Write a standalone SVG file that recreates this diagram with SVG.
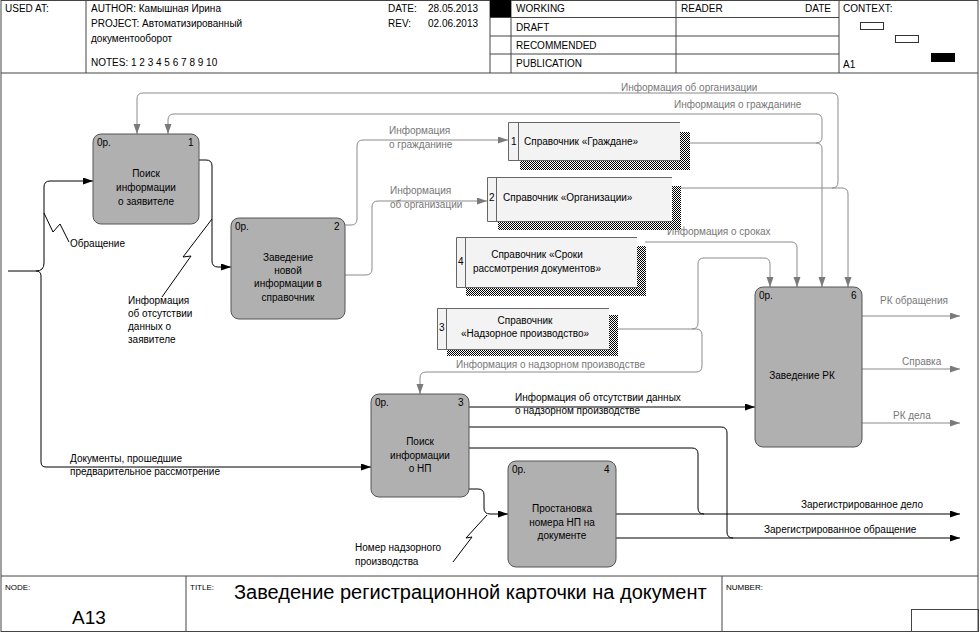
<svg xmlns="http://www.w3.org/2000/svg" width="980" height="632" viewBox="0 0 980 632">
<style>
text{font-family:"Liberation Sans",Arial,sans-serif;font-size:10px;fill:#000}
.g{fill:#777}
.hdr{font-size:10px}
.frame{fill:none;stroke:#444;stroke-width:1}
.box{fill:#b0b0b0;stroke:#555;stroke-width:1}
.store{fill:#f3f3f3;stroke:none}
.sline{fill:none;stroke:#666;stroke-width:1}
.cb{fill:none;stroke:#000;stroke-width:1}
.cg{fill:none;stroke:#8a8a8a;stroke-width:1}
.mid{text-anchor:middle}
</style>
<defs>
<marker id="ab" markerWidth="11" markerHeight="8" refX="10" refY="3.5" orient="auto" markerUnits="userSpaceOnUse"><path d="M0,0 L10,3.5 L0,7 z" fill="#000"/></marker>
<marker id="ag" markerWidth="11" markerHeight="8" refX="10" refY="3.5" orient="auto" markerUnits="userSpaceOnUse"><path d="M0,0 L10,3.5 L0,7 z" fill="#7a7a7a"/></marker>
<pattern id="hatch" width="2" height="2" patternUnits="userSpaceOnUse"><rect width="2" height="2" fill="#fff"/><rect width="1" height="1" fill="#000"/><rect x="1" y="1" width="1" height="1" fill="#000"/></pattern>
</defs>
<rect x="0" y="0" width="980" height="632" fill="#fff"/>
<g id="frame">
<rect class="frame" x="1" y="0.5" width="977" height="631"/>
<line class="frame" x1="1" y1="73" x2="978" y2="73"/>
<line class="frame" x1="86" y1="0" x2="86" y2="73"/>
<line class="frame" x1="490" y1="0" x2="490" y2="73"/>
<line class="frame" x1="511" y1="0" x2="511" y2="73"/>
<line class="frame" x1="676" y1="0" x2="676" y2="73"/>
<line class="frame" x1="839" y1="0" x2="839" y2="73"/>
<line class="frame" x1="490" y1="17.5" x2="839" y2="17.5"/>
<line class="frame" x1="490" y1="36" x2="839" y2="36"/>
<line class="frame" x1="490" y1="54" x2="839" y2="54"/>
<rect x="490" y="0" width="21" height="17" fill="#000"/>
<rect x="860.5" y="22.5" width="23" height="7" fill="none" stroke="#333"/>
<rect x="895.5" y="35.5" width="23" height="7" fill="none" stroke="#333"/>
<rect x="931" y="53" width="24" height="9" fill="#000"/>
<text class="hdr" x="5" y="12">USED AT:</text>
<text class="hdr" x="91" y="12">AUTHOR: Камышная Ирина</text>
<text class="hdr" x="91" y="27">PROJECT: Автоматизированный</text>
<text class="hdr" x="91" y="42">документооборот</text>
<text class="hdr" x="91" y="66">NOTES: 1 2 3 4 5 6 7 8 9 10</text>
<text class="hdr" x="388" y="12">DATE:</text>
<text class="hdr" x="428" y="12">28.05.2013</text>
<text class="hdr" x="388" y="27">REV:</text>
<text class="hdr" x="428" y="27">02.06.2013</text>
<text class="hdr" x="516" y="12">WORKING</text>
<text class="hdr" x="516" y="31">DRAFT</text>
<text class="hdr" x="516" y="49">RECOMMENDED</text>
<text class="hdr" x="516" y="67">PUBLICATION</text>
<text class="hdr" x="681" y="12">READER</text>
<text class="hdr" x="805" y="12">DATE</text>
<text class="hdr" x="843" y="12">CONTEXT:</text>
<text class="hdr" x="843" y="68">A1</text>
<line class="frame" x1="1" y1="576" x2="978" y2="576"/>
<line class="frame" x1="186" y1="576" x2="186" y2="632"/>
<line class="frame" x1="722" y1="576" x2="722" y2="632"/>
<rect x="911.5" y="609.5" width="67" height="23" fill="none" stroke="#444"/>
<text x="5" y="590" style="font-size:8px">NODE:</text>
<text x="72" y="624" style="font-size:19px">A13</text>
<text x="190" y="590" style="font-size:8px">TITLE:</text>
<text x="234" y="599" style="font-size:20px">Заведение регистрационной карточки на документ</text>
<text x="726" y="590" style="font-size:8px">NUMBER:</text>
</g>
<g id="connectors">
<path class="cb" d="M8,271 L36,271 Q44,271 44,263 L44,187 Q44,181 50,181 L93,181" marker-end="url(#ab)"/>
<path class="cb" d="M36,271 Q41,271 41,276 L41,462 Q41,467 46,467 L371,467" marker-end="url(#ab)"/>
<path class="cb" d="M199,160 L206,160 Q212,160 212,166 L212,261 Q212,267 218,267 L231,267" marker-end="url(#ab)"/>
<path class="cb" d="M44,213 L53,232 L60,224 L69,242"/>
<path class="cb" d="M212,219 L183,257 L191,256 L162,297"/>
<path class="cg" d="M345,225 L351,225 Q357,225 357,219 L357,146 Q357,140 363,140 L508,140" marker-end="url(#ag)"/>
<path class="cg" d="M345,275 L366,275 Q372,275 372,269 L372,207 Q372,201 378,201 L487,201" marker-end="url(#ag)"/>
<path class="cg" d="M690,143 L816,143 Q822,143 822,149 L822,287" marker-end="url(#ag)"/>
<path class="cg" d="M816,143 Q822,143 822,137 L822,120 Q822,114 816,114 L174,114 Q168,114 168,120 L168,134" marker-end="url(#ag)"/>
<path class="cg" d="M680,188 L832,188 Q838,188 838,182 L838,99 Q838,93 832,93 L143,93 Q137,93 137,99 L137,134" marker-end="url(#ag)"/>
<path class="cg" d="M832,188 L842,188 Q848,188 848,194 L848,287" marker-end="url(#ag)"/>
<path class="cg" d="M645,242 L791,242 Q797,242 797,248 L797,287" marker-end="url(#ag)"/>
<path class="cg" d="M618,329 L696,329 Q702,329 702,335 L702,366 Q702,372 696,372 L426,372 Q420,372 420,378 L420,394" marker-end="url(#ag)"/>
<path class="cg" d="M692,329 Q698,329 698,323 L698,264 Q698,258 704,258 L764,258 Q770,258 770,264 L770,287" marker-end="url(#ag)"/>
<path class="cb" d="M469,407 L755,407" marker-end="url(#ab)"/>
<path class="cb" d="M469,427 L721,427 Q727,427 727,433 L727,532 Q727,538 733,538 L960,538" marker-end="url(#ab)"/>
<path class="cb" d="M469,448 L692,448 Q698,448 698,454 L698,508 Q698,514 704,514 L960,514" marker-end="url(#ab)"/>
<path class="cb" d="M616,514 L704,514"/>
<path class="cb" d="M616,538 L733,538"/>
<path class="cb" d="M469,489 L478,489 Q484,489 484,495 L484,508 Q484,514 490,514 L508,514" marker-end="url(#ab)"/>
<path class="cb" d="M487,515 L466,538 L472,537 L453,562"/>
<path class="cg" d="M862,316 L960,316" marker-end="url(#ag)"/>
<path class="cg" d="M862,369 L960,369" marker-end="url(#ag)"/>
<path class="cg" d="M862,423 L960,423" marker-end="url(#ag)"/>
<text class="g" x="621" y="91">Информация об организации</text>
<text class="g" x="674" y="108">Информация о гражданине</text>
<text class="g" x="389" y="134">Информация</text>
<text class="g" x="389" y="148">о гражданине</text>
<text class="g" x="390" y="194">Информация</text>
<text class="g" x="390" y="208">об организации</text>
<text class="g" x="667" y="235">Информация о сроках</text>
<text class="g" x="456" y="368">Информация о надзорном производстве</text>
<text x="515" y="401">Информация об отсутствии данных</text>
<text x="515" y="414">о надзорном производстве</text>
<text x="801" y="508">Зарегистрированное дело</text>
<text x="764" y="533">Зарегистрированное обращение</text>
<text class="g" x="880" y="304">РК обращения</text>
<text class="g" x="902" y="365">Справка</text>
<text class="g" x="893" y="419">РК дела</text>
<text x="70" y="247">Обращение</text>
<text x="128" y="304">Информация</text>
<text x="128" y="317">об отсутствии</text>
<text x="128" y="330">данных о</text>
<text x="128" y="343">заявителе</text>
<text x="70" y="462">Документы, прошедшие</text>
<text x="70" y="475">предварительное рассмотрение</text>
<text x="355" y="551">Номер надзорного</text>
<text x="355" y="565">производства</text>
</g>
<g id="box1">
<rect class="box" x="93" y="134" width="106" height="90" rx="8"/>
<text x="97" y="146">0р.</text><text x="188" y="146">1</text>
<text class="mid" x="146" y="177">Поиск</text>
<text class="mid" x="146" y="191">информации</text>
<text class="mid" x="146" y="205">о заявителе</text>
</g>
<g id="box2">
<rect class="box" x="231" y="218" width="114" height="101" rx="8"/>
<text x="235" y="230">0р.</text><text x="334" y="230">2</text>
<text class="mid" x="288" y="261">Заведение</text>
<text class="mid" x="288" y="274">новой</text>
<text class="mid" x="288" y="287">информации в</text>
<text class="mid" x="288" y="301">справочник</text>
</g>
<g id="box3">
<rect class="box" x="371" y="394" width="98" height="103" rx="8"/>
<text x="375" y="406">0р.</text><text x="458" y="406">3</text>
<text class="mid" x="420" y="445">Поиск</text>
<text class="mid" x="420" y="459">информации</text>
<text class="mid" x="420" y="472">о НП</text>
</g>
<g id="box4">
<rect class="box" x="508" y="461" width="108" height="106" rx="8"/>
<text x="512" y="473">0р.</text><text x="604" y="473">4</text>
<text class="mid" x="562" y="512">Простановка</text>
<text class="mid" x="562" y="526">номера НП на</text>
<text class="mid" x="562" y="539">документе</text>
</g>
<g id="box6">
<rect class="box" x="755" y="287" width="107" height="160" rx="8"/>
<text x="759" y="299">0р.</text><text x="851" y="299">6</text>
<text class="mid" x="802" y="379">Заведение РК</text>
</g>
<g id="store1">
<rect x="680" y="132" width="10" height="38" fill="url(#hatch)"/>
<rect x="520" y="160" width="170" height="10" fill="url(#hatch)"/>
<rect class="store" x="508" y="122" width="172" height="38"/>
<path class="sline" d="M680,122.5 L508.5,122.5 L508.5,160.5 L680,160.5 M518.5,122.5 L518.5,160.5"/>
<text x="511" y="145">1</text>
<text x="524" y="145">Справочник «Граждане»</text>
</g>
<g id="store2">
<rect x="672" y="186" width="9" height="44" fill="url(#hatch)"/>
<rect x="498" y="221" width="183" height="9" fill="url(#hatch)"/>
<rect class="store" x="487" y="177" width="185" height="44"/>
<path class="sline" d="M672,177.5 L487.5,177.5 L487.5,221.5 L672,221.5 M496.5,177.5 L496.5,221.5"/>
<text x="489" y="201">2</text>
<text x="503" y="201">Справочник «Организации»</text>
</g>
<g id="store4">
<rect x="637" y="246" width="9" height="50" fill="url(#hatch)"/>
<rect x="466" y="287" width="180" height="9" fill="url(#hatch)"/>
<rect class="store" x="456" y="237" width="181" height="50"/>
<path class="sline" d="M637,237.5 L456.5,237.5 L456.5,287.5 L637,287.5 M465.5,237.5 L465.5,287.5"/>
<text x="458" y="265">4</text>
<text class="mid" x="537" y="258">Справочник «Сроки</text>
<text class="mid" x="537" y="272">рассмотрения документов»</text>
</g>
<g id="store3">
<rect x="609" y="315" width="9" height="41" fill="url(#hatch)"/>
<rect x="447" y="349" width="171" height="7" fill="url(#hatch)"/>
<rect class="store" x="437" y="308" width="172" height="41"/>
<path class="sline" d="M609,308.5 L437.5,308.5 L437.5,349.5 L609,349.5 M446.5,308.5 L446.5,349.5"/>
<text x="439" y="331">3</text>
<text class="mid" x="525" y="324">Справочник</text>
<text class="mid" x="525" y="337">«Надзорное производство»</text>
</g>
</svg>
